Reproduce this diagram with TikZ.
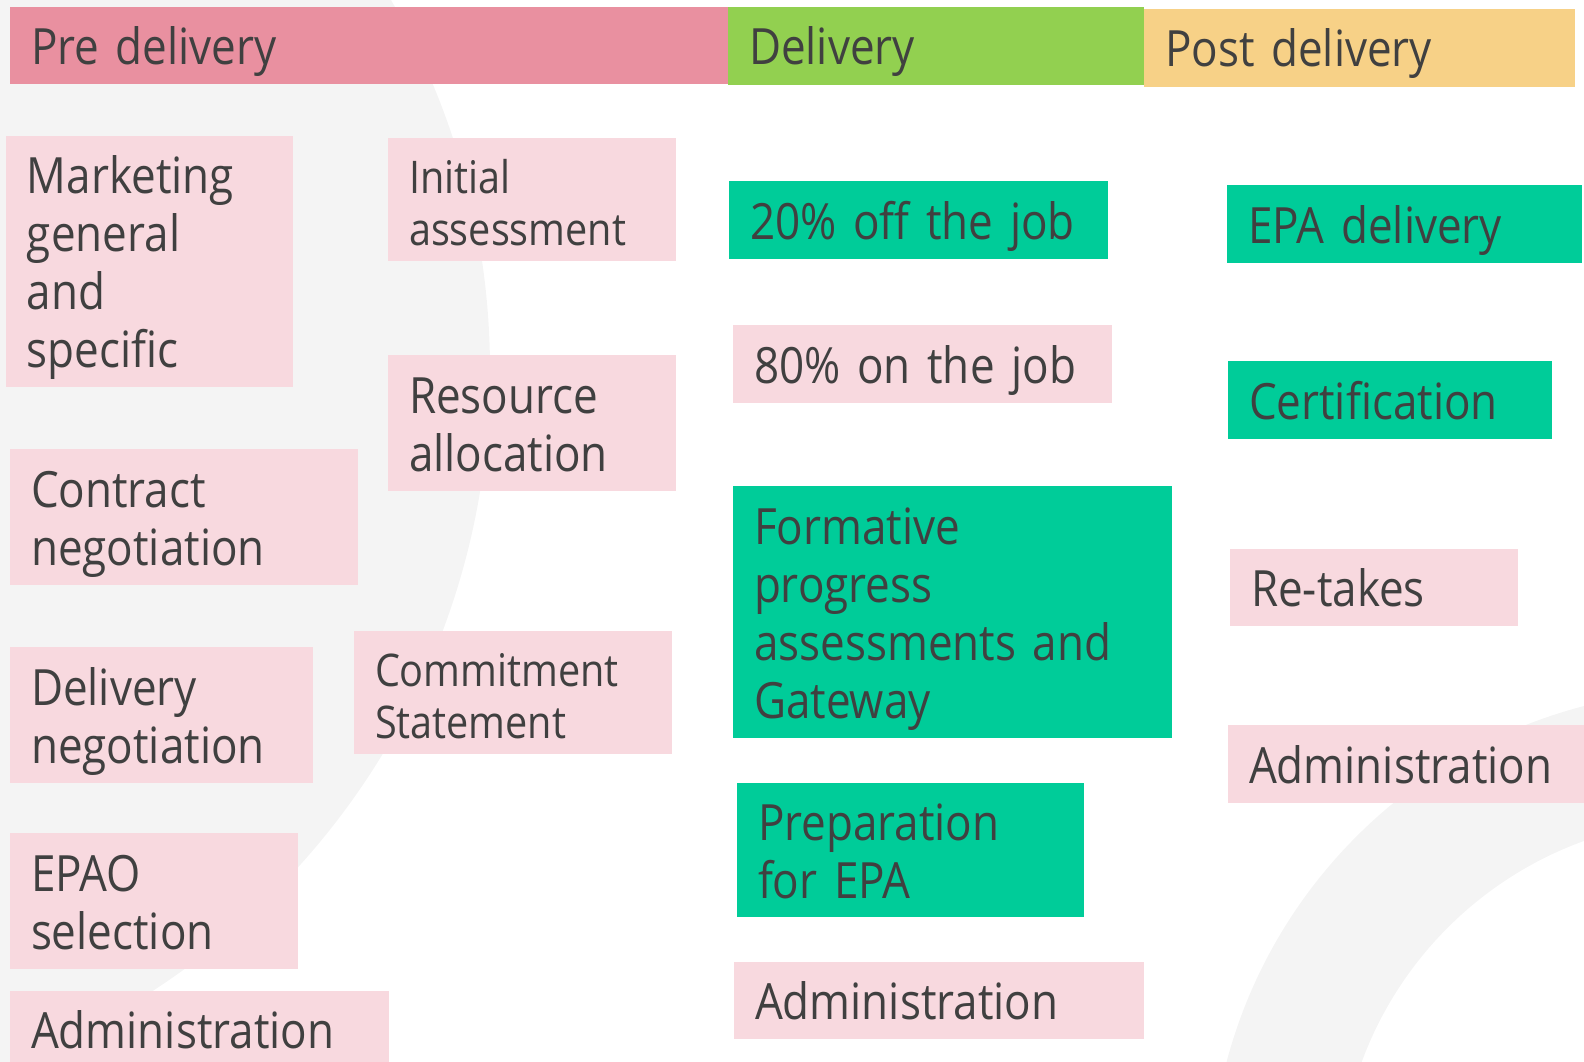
\documentclass[tikz,border=0pt]{standalone}
\usepackage{fontspec}
\setmainfont{Open Sans}[FakeStretch=0.88]
\usepackage{xcolor}
\definecolor{PhasePink}{HTML}{E990A0}
\definecolor{PhaseGreen}{HTML}{92D050}
\definecolor{PhaseOrange}{HTML}{F7D187}
\definecolor{CardPink}{HTML}{F8D9DF}
\definecolor{CardTeal}{HTML}{00CC99}
\definecolor{InkGrey}{HTML}{404040}
\definecolor{BackGrey}{HTML}{F4F4F4}
\usepackage{tikz}
\usetikzlibrary{positioning}

\newcommand{\bigcard}{\fontsize{50}{58}\selectfont}
\newcommand{\smallcard}{\fontsize{45}{52}\selectfont}
\tikzset{
  card/.style={anchor=north west, inner xsep=21pt, inner ysep=0pt, outer sep=0pt, align=left, text=InkGrey, font=\bigcard,
    execute at begin node={\rule[-6pt]{0pt}{50pt}}, text depth=6pt},
  twolines/.style={text depth=64pt},
  fourlines/.style={text depth=180pt},
  smalltext/.style={font=\smallcard, execute at begin node={\rule[-5pt]{0pt}{40pt}}, text depth=57pt},
  pinkcard/.style={card, fill=CardPink},
  tealcard/.style={card, fill=CardTeal},
}

\begin{document}
\begin{tikzpicture}[x=1pt, y=-1pt]
        \useasboundingbox (0,0) rectangle (1584,1062);
        \clip (0,0) rectangle (1584,1062);
        % Fond (disque gauche et anneau en bas a droite)
        \fill[BackGrey] (-250,370) circle[radius=740pt];
        \fill[BackGrey, even odd rule] (1710,1190) circle[radius=500pt] (1710,1190) circle[radius=371pt];

        % Phases (bandeau du haut)
        \node[card, fill=PhasePink, text width=677pt, minimum height=77pt] (pre) at (10,7) {Pre delivery};
        \node[card, fill=PhaseGreen, text width=374pt, minimum height=78pt] (del) at (728,7) {Delivery};
        \node[card, fill=PhaseOrange, text width=389pt, minimum height=78pt] (post) at (1144,9) {Post delivery};

        % Pre delivery
        \node[pinkcard, fourlines, text width=245pt, minimum height=251pt] (market) at (6,136) {Marketing\\general\\and\\specific};
        \node[pinkcard, smalltext, text width=246pt, minimum height=123pt] (initial) at (388,138) {Initial\\assessment};
        \node[pinkcard, twolines, text width=246pt, minimum height=136pt] (resource) at (388,355) {Resource\\allocation};
        \node[pinkcard, twolines, text width=306pt, minimum height=136pt] (contract) at (10,449) {Contract\\negotiation};
        \node[pinkcard, twolines, text width=261pt, minimum height=136pt] (delneg) at (10,647) {Delivery\\negotiation};
        \node[pinkcard, smalltext, text width=276pt, minimum height=123pt] (commit) at (354,631) {Commitment\\Statement};
        \node[pinkcard, twolines, text width=246pt, minimum height=136pt] (epao) at (10,833) {EPAO\\selection};
        \node[pinkcard, text width=337pt, minimum height=77pt] (adminpre) at (10,991) {Administration};

        % Delivery
        \node[tealcard, text width=337pt, minimum height=78pt] (offjob) at (729,181) {20\% off the job};
        \node[pinkcard, text width=337pt, minimum height=78pt] (onjob) at (733,325) {80\% on the job};
        \node[tealcard, fourlines, text width=397pt, minimum height=252pt] (formative) at (733,486) {Formative\\progress\\assessments and\\Gateway};
        \node[tealcard, twolines, text width=305pt, minimum height=134pt] (prep) at (737,783) {Preparation\\for EPA};
        \node[pinkcard, text width=368pt, minimum height=77pt] (admindel) at (734,962) {Administration};

        % Post delivery
        \node[tealcard, text width=313pt, minimum height=78pt] (epadel) at (1227,185) {EPA delivery};
        \node[tealcard, text width=282pt, minimum height=78pt] (cert) at (1228,361) {Certification};
        \node[pinkcard, text width=246pt, minimum height=77pt] (retakes) at (1230,549) {Re-takes};
        \node[pinkcard, text width=330pt, minimum height=78pt] (adminpost) at (1228,725) {Administration};
    \end{tikzpicture}
\end{document}
